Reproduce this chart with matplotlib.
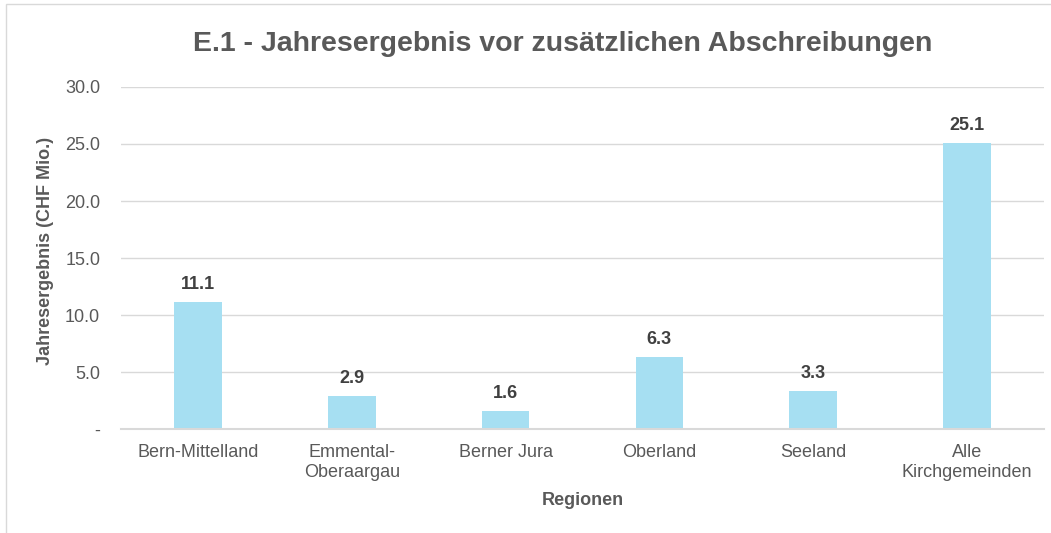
import matplotlib
matplotlib.use("Agg")
import matplotlib.pyplot as plt
from matplotlib.patches import Rectangle
from matplotlib.ticker import FixedLocator

regions = ["Bern-Mittelland", "Emmental-\nOberaargau", "Berner Jura",
           "Oberland", "Seeland", "Alle\nKirchgemeinden"]
values = [11.1, 2.9, 1.6, 6.3, 3.3, 25.1]
yticks = [0, 5, 10, 15, 20, 25, 30]
ytick_labels = ["-", "5.0", "10.0", "15.0", "20.0", "25.0", "30.0"]

plt.rcParams["font.family"] = ["Liberation Sans", "DejaVu Sans"]
TEXT = "#595959"
GRID = "#d9d9d9"
FS = 13

fig = plt.figure(figsize=(10.51, 5.33), dpi=100)
ax = fig.add_axes([0.1151, 0.195, 0.8782, 0.6418])

x = range(len(regions))
bars = ax.bar(x, values, width=0.31, color="#a6dff2", zorder=2)
for b, v in zip(bars, values):
    ax.text(b.get_x() + b.get_width() / 2, v + 1.15, f"{v:.1f}",
            ha="center", va="baseline", fontsize=FS, fontweight="bold",
            color="#404040")

ax.set_xlim(-0.5, len(regions) - 0.5)
ax.set_ylim(0, 30)
ax.yaxis.set_major_locator(FixedLocator(yticks))
ax.set_yticklabels(ytick_labels)
ax.set_xticks(list(x))
ax.set_xticklabels(regions)
ax.tick_params(axis="both", length=0, labelsize=FS, colors=TEXT)
ax.tick_params(axis="x", pad=11)
ax.tick_params(axis="y", pad=15)
ax.grid(True, axis="y", color=GRID, linewidth=1, zorder=0)
for s in ["top", "right", "left"]:
    ax.spines[s].set_visible(False)
ax.spines["bottom"].set_color(GRID)
ax.spines["bottom"].set_linewidth(1.5)

ax.set_xlabel("Regionen", fontsize=FS, fontweight="bold", color=TEXT)
ax.xaxis.set_label_coords(0.5, -0.2076)
ax.xaxis.label.set_va("center")
ax.set_ylabel("Jahresergebnis (CHF Mio.)", fontsize=FS, fontweight="bold",
              color=TEXT)
ax.yaxis.set_label_coords(-0.0823, 0.52)
ax.yaxis.label.set_va("center")
fig.text(0.535, 0.918, "E.1 - Jahresergebnis vor zusätzlichen Abschreibungen",
         ha="center", va="center", fontsize=20.5, fontweight="bold", color=TEXT)

fig.patches.append(Rectangle((6 / 1051, -0.01), 1.02, 1 - 4 / 533 + 0.01,
                             transform=fig.transFigure, fill=False,
                             edgecolor=GRID, linewidth=1))

fig.savefig("out.png", dpi=100)
